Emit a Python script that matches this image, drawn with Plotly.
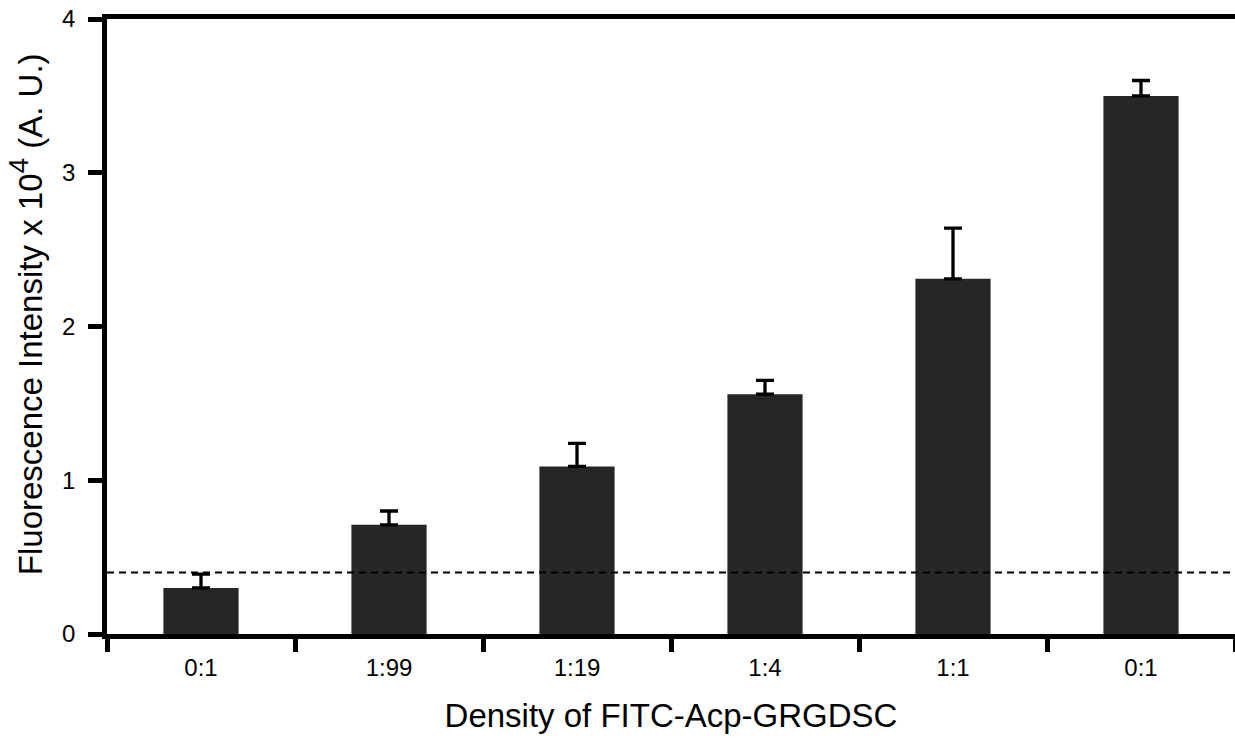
import plotly.graph_objects as go

categories = ["0:1", "1:99", "1:19", "1:4", "1:1", "0:1"]
values = [0.30, 0.71, 1.09, 1.56, 2.31, 3.50]
errors = [0.09, 0.09, 0.15, 0.09, 0.33, 0.10]
threshold = 0.40

x_pos = [i + 0.5 for i in range(len(categories))]

FONT = "Arial, Liberation Sans, sans-serif"

fig = go.Figure()
fig.add_trace(go.Bar(
    x=x_pos, y=values, width=0.4,
    marker=dict(color="#262626", line=dict(width=0)),
    error_y=dict(type="data", array=errors, arrayminus=[0] * len(errors),
                 symmetric=False, color="black", thickness=3.3, width=9),
    showlegend=False,
))

fig.add_shape(type="line", xref="x", yref="y", x0=0, x1=len(categories),
              y0=threshold, y1=threshold,
              line=dict(color="black", width=2, dash="7px,5px"))

fig.update_layout(
    width=1235, height=749,
    margin=dict(l=107, r=0, t=19, b=115),
    plot_bgcolor="white", paper_bgcolor="white",
    font=dict(family=FONT, color="black"),
    xaxis=dict(
        range=[0, len(categories)],
        tickmode="array", tickvals=x_pos, ticktext=categories,
        ticks="", tickfont=dict(size=24, family=FONT),
        showgrid=False, zeroline=False,
        showline=True, linecolor="black", linewidth=4.5, mirror=True,
        minor=dict(tickmode="array", tickvals=list(range(len(categories) + 1)),
                   ticks="outside", ticklen=13, tickwidth=4.5, tickcolor="black",
                   showgrid=False),
        title=dict(text="Density of FITC-Acp-GRGDSC", font=dict(size=33, family=FONT), standoff=26),
        ticklabelstandoff=8,
    ),
    yaxis=dict(
        range=[0, 4], tickvals=[0, 1, 2, 3, 4],
        ticks="outside", ticklen=14, tickwidth=4.5, tickcolor="black",
        tickfont=dict(size=24, family=FONT),
        showgrid=False, zeroline=False,
        showline=True, linecolor="black", linewidth=4.5,
        ticklabelstandoff=8,
    ),
)

fig.add_annotation(
    text='Fluorescence Intensity x 10<sup><span style="font-size:28px">4</span></sup> (A. U.)',
    xref="paper", yref="paper", x=-81 / 1128, y=0.52,
    xanchor="center", yanchor="middle", textangle=-90, showarrow=False,
    font=dict(size=33, family=FONT, color="black"),
)

fig.write_html("out.html")
